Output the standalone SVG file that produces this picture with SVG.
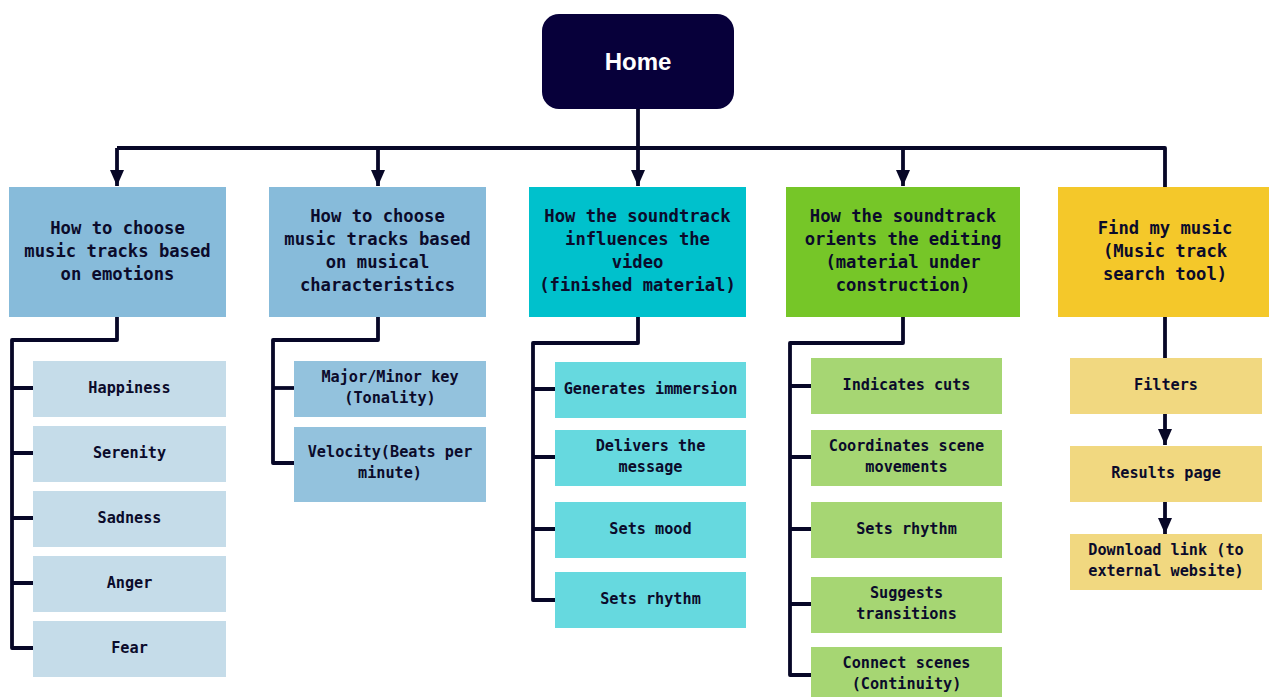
<svg xmlns="http://www.w3.org/2000/svg" width="1269" height="697" viewBox="0 0 1269 697">
<style>
text{font-family:"DejaVu Sans Mono","Liberation Mono",monospace;font-weight:bold;fill:#0b0b2b;text-anchor:middle;dominant-baseline:central}
.h{font-size:17.2px}
.c{font-size:15.2px}
.home{font-family:"Liberation Sans",Arial,sans-serif;font-size:24px;fill:#ffffff}
.ln{fill:none;stroke:#070727;stroke-width:3.8;stroke-linejoin:round}
.b1{fill:#87bbda}.b3{fill:#00c1cc}.b4{fill:#76c628}.b5{fill:#f4c82a}
.k1{fill:#c5dce9}.k2{fill:#93c2dd}.k3{fill:#66d9df}.k4{fill:#a6d673}.k5{fill:#f1d880}
</style>
<defs>
<marker id="a" viewBox="0 0 16 14" refX="16" refY="7" markerWidth="16" markerHeight="14" orient="auto" markerUnits="userSpaceOnUse">
<path d="M0,0 L16,7 L0,14 Z" fill="#070727"/>
</marker>
</defs>

<g id="connectors">
<path class="ln" d="M638,109 V148"/>
<path class="ln" d="M117,148 H1165 V187"/>
<path class="ln" d="M117,148 V186" marker-end="url(#a)"/>
<path class="ln" d="M378,148 V186" marker-end="url(#a)"/>
<path class="ln" d="M638,148 V186" marker-end="url(#a)"/>
<path class="ln" d="M903,148 V186" marker-end="url(#a)"/>
<path class="ln" d="M117,317 V340 H12 V648 H33"/>
<path class="ln" d="M12,388 H33 M12,453 H33 M12,518 H33 M12,583 H33"/>
<path class="ln" d="M378,317 V340 H273 V463 H294"/>
<path class="ln" d="M273,388 H294"/>
<path class="ln" d="M638,317 V343 H533 V600 H555"/>
<path class="ln" d="M533,389 H555 M533,457 H555 M533,529 H555"/>
<path class="ln" d="M903,317 V343 H790 V675 H811"/>
<path class="ln" d="M790,386 H811 M790,457 H811 M790,529 H811 M790,604 H811"/>
<path class="ln" d="M1165,317 V358"/>
<path class="ln" d="M1165,414 V445" marker-end="url(#a)"/>
<path class="ln" d="M1165,502 V534" marker-end="url(#a)"/>
</g>

<g id="home">
<rect x="542" y="14" width="192" height="95" rx="17" fill="#07003a"/>
<text class="home" x="638" y="61">Home</text>
</g>

<g id="emotions">
<rect class="b1" x="9" y="187" width="217" height="130"/>
<text class="h" x="117.5" y="228">How to choose</text>
<text class="h" x="117.5" y="251">music tracks based</text>
<text class="h" x="117.5" y="274">on emotions</text>
</g>
<g id="happiness"><rect class="k1" x="33" y="361" width="193" height="56"/><text class="c" x="129.5" y="388">Happiness</text></g>
<g id="serenity"><rect class="k1" x="33" y="426" width="193" height="56"/><text class="c" x="129.5" y="453">Serenity</text></g>
<g id="sadness"><rect class="k1" x="33" y="491" width="193" height="56"/><text class="c" x="129.5" y="518">Sadness</text></g>
<g id="anger"><rect class="k1" x="33" y="556" width="193" height="56"/><text class="c" x="129.5" y="583">Anger</text></g>
<g id="fear"><rect class="k1" x="33" y="621" width="193" height="56"/><text class="c" x="129.5" y="648">Fear</text></g>

<g id="musical">
<rect class="b1" x="269" y="187" width="217" height="130"/>
<text class="h" x="377.5" y="216">How to choose</text>
<text class="h" x="377.5" y="239">music tracks based</text>
<text class="h" x="377.5" y="262">on musical</text>
<text class="h" x="377.5" y="285">characteristics</text>
</g>
<g id="tonality"><rect class="k2" x="294" y="361" width="192" height="56"/><text class="c" x="390" y="377">Major/Minor key</text><text class="c" x="390" y="398">(Tonality)</text></g>
<g id="velocity"><rect class="k2" x="294" y="427" width="192" height="75"/><text class="c" x="390" y="452">Velocity(Beats per</text><text class="c" x="390" y="473">minute)</text></g>

<g id="influences">
<rect class="b3" x="529" y="187" width="217" height="130"/>
<text class="h" x="637.5" y="216">How the soundtrack</text>
<text class="h" x="637.5" y="239">influences the</text>
<text class="h" x="637.5" y="262">video</text>
<text class="h" x="637.5" y="285">(finished material)</text>
</g>
<g id="immersion"><rect class="k3" x="555" y="362" width="191" height="56"/><text class="c" x="650.5" y="389">Generates immersion</text></g>
<g id="message"><rect class="k3" x="555" y="430" width="191" height="56"/><text class="c" x="650.5" y="446">Delivers the</text><text class="c" x="650.5" y="467">message</text></g>
<g id="mood"><rect class="k3" x="555" y="502" width="191" height="56"/><text class="c" x="650.5" y="529">Sets mood</text></g>
<g id="rhythm3"><rect class="k3" x="555" y="572" width="191" height="56"/><text class="c" x="650.5" y="599">Sets rhythm</text></g>

<g id="orients">
<rect class="b4" x="786" y="187" width="234" height="130"/>
<text class="h" x="903" y="216">How the soundtrack</text>
<text class="h" x="903" y="239">orients the editing</text>
<text class="h" x="903" y="262">(material under</text>
<text class="h" x="903" y="285">construction)</text>
</g>
<g id="cuts"><rect class="k4" x="811" y="358" width="191" height="56"/><text class="c" x="906.5" y="385">Indicates cuts</text></g>
<g id="coordinates"><rect class="k4" x="811" y="430" width="191" height="56"/><text class="c" x="906.5" y="446">Coordinates scene</text><text class="c" x="906.5" y="467">movements</text></g>
<g id="rhythm4"><rect class="k4" x="811" y="502" width="191" height="56"/><text class="c" x="906.5" y="529">Sets rhythm</text></g>
<g id="transitions"><rect class="k4" x="811" y="577" width="191" height="56"/><text class="c" x="906.5" y="593">Suggests</text><text class="c" x="906.5" y="614">transitions</text></g>
<g id="connect"><rect class="k4" x="811" y="647" width="191" height="56"/><text class="c" x="906.5" y="663">Connect scenes</text><text class="c" x="906.5" y="684">(Continuity)</text></g>

<g id="findmusic">
<rect class="b5" x="1058" y="187" width="211" height="130"/>
<text class="h" x="1165" y="228">Find my music</text>
<text class="h" x="1165" y="251">(Music track</text>
<text class="h" x="1165" y="274">search tool)</text>
</g>
<g id="filters"><rect class="k5" x="1070" y="358" width="192" height="56"/><text class="c" x="1166" y="385">Filters</text></g>
<g id="results"><rect class="k5" x="1070" y="446" width="192" height="56"/><text class="c" x="1166" y="473">Results page</text></g>
<g id="download"><rect class="k5" x="1070" y="534" width="192" height="56"/><text class="c" x="1166" y="550">Download link (to</text><text class="c" x="1166" y="571">external website)</text></g>
</svg>
